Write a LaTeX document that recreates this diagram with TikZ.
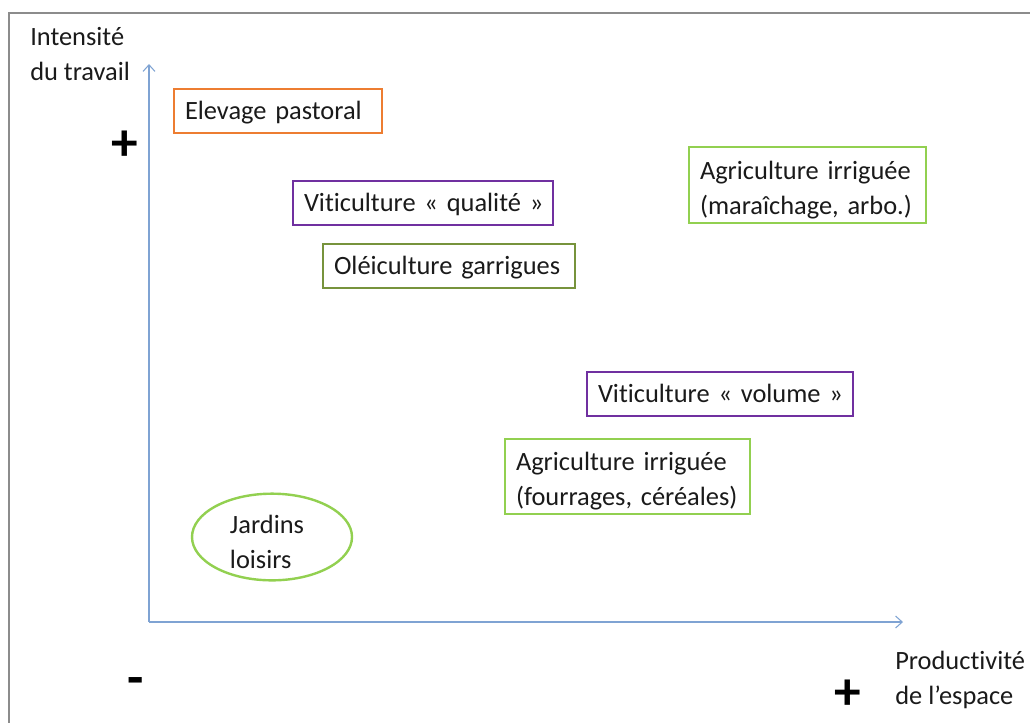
\documentclass[tikz,border=0pt]{standalone}
\usepackage{fontspec}
\setmainfont{Carlito}[Ligatures={NoCommon,TeX}]
\usetikzlibrary{arrows.meta,shapes.geometric}
\definecolor{axisblue}{HTML}{7FA3D3}
\definecolor{orangeb}{HTML}{ED7D31}
\definecolor{purpleb}{HTML}{7030A0}
\definecolor{oliveb}{HTML}{77933C}
\definecolor{lgreen}{HTML}{92D050}
\definecolor{framegray}{HTML}{8C8C8C}
\definecolor{textc}{HTML}{1A1A1A}
\tikzset{
  lbl/.style={font=\fontsize{19.8}{26.25}\selectfont, text=textc, align=left, inner sep=0pt},
  box/.style={draw=#1, line width=1.5pt, fill=white, font=\fontsize{19.8}{26.25}\selectfont, text=textc, align=left, inner xsep=8.25pt, inner ysep=0pt},
  oneline/.style={text height=17pt, text depth=5pt, minimum height=33pt},
  twoline/.style={text height=21pt},
  sign/.style={font=\fontsize{40}{40}\bfseries\selectfont, text=black, inner sep=0pt},
  axis/.style={draw=axisblue, line width=0.9pt, -{Straight Barb[length=5pt,width=9pt,line width=0.8pt]}},
}
\begin{document}
\begin{tikzpicture}[x=0.75pt,y=-0.75pt]
\useasboundingbox (0,0) rectangle (1030,722);
% frame
\draw[framegray, line width=1.6pt] (9,730) -- (9,13) -- (1035,13);
% axes
\coordinate (O) at (149,622);
\coordinate (ytop) at (149,64);
\coordinate (xend) at (903,622);
\draw[axis] (O) -- (ytop);
\draw[axis] (O) -- (xend);
% axis labels
\node[lbl, anchor=west] (ylab) at (30,54) {Intensité\\du travail};
\node[lbl, anchor=west] (xlab) at (895,680) {Productivité\\de l’espace};
\node[sign] (yplus) at (125,146) {+};
\node[sign] (yminus) at (136,686) {-};
\node[sign] (xplus) at (848,695) {+};
% boxes
\node[box=orangeb, oneline, text width=139.5pt] (elev) at (278,111) {\mbox{Elevage pastoral}};
\node[box=purpleb, oneline, text width=178.5pt] (vitq) at (423,203) {\mbox{Viticulture « qualité »}};
\node[box=oliveb, oneline, text width=172.5pt] (olei) at (449,266) {\mbox{Oléiculture garrigues}};
\node[box=lgreen, twoline, text width=161.25pt, minimum height=57pt] (agri1) at (807.5,185) {\mbox{Agriculture irriguée}\\\mbox{(maraîchage, arbo.)}};
\node[box=purpleb, oneline, text width=183pt] (vitv) at (720,394) {\mbox{Viticulture « volume »}};
\node[box=lgreen, twoline, text width=167.25pt, minimum height=56.25pt] (agri2) at (627.5,476.5) {\mbox{Agriculture irriguée}\\\mbox{(fourrages, céréales)}};
\node[ellipse, draw=lgreen, line width=1.8pt, minimum width=120pt, minimum height=65pt, inner sep=0pt] (jard) at (272,537) {};
\node[lbl] (jardt) at (267,542) {Jardins\\loisirs};
\end{tikzpicture}
\end{document}
